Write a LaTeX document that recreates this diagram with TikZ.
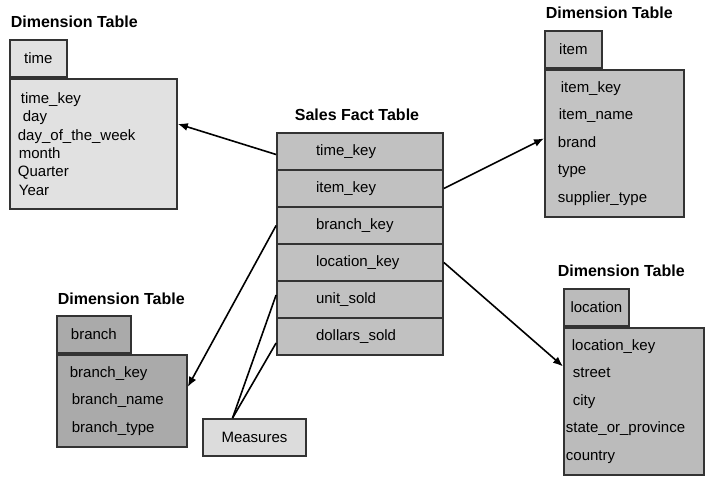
\documentclass[tikz,border=0pt]{standalone}
\usepackage{fontspec}
\setmainfont{Liberation Sans}
\usetikzlibrary{positioning,arrows.meta}

\definecolor{edge}{HTML}{333333}
\definecolor{timegrey}{HTML}{E1E1E1}
\definecolor{itemgrey}{HTML}{C3C3C3}
\definecolor{factgrey}{HTML}{C1C1C1}
\definecolor{branchgrey}{HTML}{AAAAAA}
\definecolor{locgrey}{HTML}{BBBBBB}
\definecolor{measgrey}{HTML}{DCDCDC}

\tikzset{
  title/.style   = {font=\bfseries\fontsize{16}{19}\selectfont, inner sep=0pt},
  tabhead/.style = {draw=edge, line width=1.8pt, minimum width=57pt, minimum height=37pt,
                    inner sep=0pt, font=\fontsize{15}{18}\selectfont},
  tabbody/.style = {draw=edge, line width=1.8pt, align=left, inner xsep=13pt, inner ysep=0pt,
                    anchor=north west, font=\fontsize{15}{18}\selectfont},
  factrow/.style = {draw=edge, fill=factgrey, line width=1.8pt, minimum height=37pt,
                    text width=88pt, inner xsep=39pt, inner ysep=0pt, align=left,
                    font=\fontsize{15}{18}\selectfont},
  measure/.style = {draw=edge, fill=measgrey, line width=1.8pt, minimum width=103pt,
                    minimum height=37pt, font=\fontsize{15}{18}\selectfont}
}

\begin{document}
\begin{tikzpicture}[x=1pt, y=-1pt, >={Latex[length=10pt,width=8pt]}, line width=1.6pt]
\useasboundingbox (0,0) rectangle (708,497);

% dimension table: time
\node[tabbody, fill=timegrey, inner xsep=8pt, text width=151pt, minimum height=130pt,
      font=\fontsize{15}{18.4}\selectfont] (timebody) at (9,78)
  {\hspace*{3pt}time\_key\\ \hspace*{5pt}day\\ day\_of\_the\_week\\ \hspace*{1pt}month\\ Quarter\\ \hspace*{1pt}Year};
\node[tabhead, fill=timegrey, above right=0pt and 0pt of timebody.north west] (timetab) {time};
\node[title, anchor=west] (timetitle) at (10,22) {Dimension Table};

% dimension table: item
\node[tabbody, fill=itemgrey, text width=113pt, minimum height=147pt] (itembody) at (544,69)
  {\hspace*{3pt}item\_key\\[9.5pt] \hspace*{1pt}item\_name\\[9.5pt] brand\\[9.5pt] type\\[9.5pt] supplier\_type};
\node[tabhead, fill=itemgrey, above right=0pt and 0pt of itembody.north west] (itemtab) {item};
\node[title, anchor=west] (itemtitle) at (545,13) {Dimension Table};

% dimension table: branch
\node[tabbody, fill=branchgrey, text width=104pt, minimum height=92pt] (branchbody) at (56,354)
  {branch\_key\\[9.5pt] \hspace*{2pt}branch\_name\\[9.5pt] \hspace*{2pt}branch\_type};
\node[tabhead, fill=branchgrey, minimum width=74pt, above right=0pt and 0pt of branchbody.north west] (branchtab) {branch};
\node[title, anchor=west] (branchtitle) at (57,299) {Dimension Table};

% dimension table: location
\node[tabbody, fill=locgrey, inner xsep=2pt, text width=136pt, minimum height=147pt] (locbody) at (563,327)
  {\hspace*{6pt}location\_key\\[9.5pt] \hspace*{7pt}street\\[9.5pt] \hspace*{7pt}city\\[9.5pt] state\_or\_province\\[9.5pt] country};
\node[tabhead, fill=locgrey, minimum width=65pt, above right=0pt and 0pt of locbody.north west] (loctab) {location};
\node[title, anchor=west] (loctitle) at (557,271) {Dimension Table};

% fact table
\node[title] (facttitle) at (357,115) {Sales Fact Table};
\foreach \i/\field in {1/time\_key, 2/item\_key, 3/branch\_key, 4/location\_key, 5/unit\_sold, 6/dollars\_sold}
  \node[factrow] (f\i) at (360, {114.5+37*\i}) {\field};

\node[measure] (measures) at (254.5,437.5) {Measures};
\coordinate (mtop) at ([xshift=-22pt]measures.north);

% connectors
\draw[->] ([yshift=-3pt]f1.west) -- ([yshift=20pt]timebody.east);
\draw[->] (f2.east) -- ([yshift=5pt]itembody.west);
\draw[->] (f3.west) -- ([yshift=14pt]branchbody.east);
\draw[->] (f4.east) -- ([yshift=35pt]locbody.west);
\draw (mtop) -- ([yshift=4.5pt]f5.west);
\draw (mtop) -- ([yshift=-6.5pt]f6.west);
\end{tikzpicture}
\end{document}
